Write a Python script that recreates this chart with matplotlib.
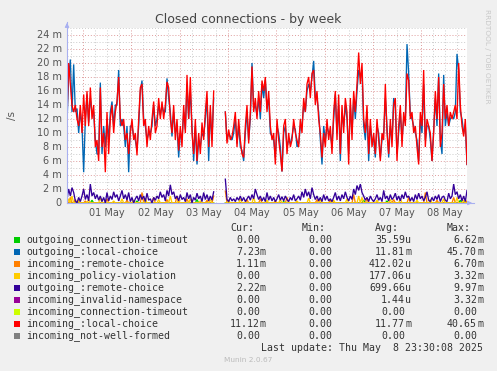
import numpy as np
import matplotlib
matplotlib.use("Agg")
import matplotlib.pyplot as plt

nan = float("nan")

# ---------------- data (values in milli-connections per second) ----------------
day_labels = ["01 May", "02 May", "03 May", "04 May", "05 May", "06 May", "07 May", "08 May"]
y_tick_labels = ["0", "2 m", "4 m", "6 m", "8 m", "10 m", "12 m", "14 m", "16 m", "18 m", "20 m", "22 m", "24 m"]

incoming_local = [
    12, 20, 17, 14, 13, 14, 12, 11, 14, 10,
    15.5, 11, 16, 11, 16.5, 12, 14, 8, 9, 6,
    16.5, 8, 10, 4.4, 13, 7, 12, 14, 10, 13,
    14.5, 18, 12, 11, 12, 9, 10, 7, 10, 12,
    9, 10, 6.8, 12, 16.5, 17, 11, 12, 8, 11,
    9, 12, 14.5, 10, 11, 15, 12, 14.5, 12, 14,
    17.3, 16.5, 12, 10, 14, 9, 12, 7.5, 11, 8,
    14, 10, 18.3, 12, 18, 10, 7, 12, 6, 10,
    7, 11.5, 9, 13, 16, 8, 14, 8, 16,
    nan, nan, nan, nan, nan, nan,
    13, 8.5, 10.5, 9, 9.5,
    11, 13, 8, 12, 9, 7, 6.5, 11, 14, 8.5,
    13, 19.5, 13, 15, 12, 16, 13, 17.5, 16, 18,
    13, 16, 11, 9, 10, 5.5, 12, 9, 7, 4.5,
    11, 12, 7, 10, 8, 9, 12, 10, 9, 8,
    12, 10, 15, 13, 17, 18, 15, 18.5, 19, 14,
    16, 12, 10, 6.5, 10, 8, 12, 9, 11, 7,
    13, 16, 9, 15.5, 7, 14, 10, 15, 13, 5.5,
    15, 9, 16, 13, 17, 21.5, 17, 20, 12, 10,
    14, 7, 12, 8, 10, 7, 12, 9, 6, 10,
    9, 17, 10, 7, 12, 8, 14, 15, 6, 11,
    14, 8, 13, 11, 18.5, 17.5, 12, 13, 10, 11,
    8, 5.5, 13, 11, 19, 8, 12, 11, 10, 6,
    10, 16, 12, 18, 8, 10, 17, 12, 14, 11,
    13, 12, 13, 14, 12, 20, 14, 11, 9.5, 12, 5.5,
]

outgoing_local = [
    11.5, 18, 20.5, 13, 19.8, 13, 13.5, 10, 13, 11,
    4.4, 12, 15.5, 11.5, 15, 13, 13, 9, 7, 7,
    17.2, 7, 11, 8, 12, 9, 13, 14.5, 11, 14,
    14, 19, 11, 12, 11, 8, 11, 4.4, 11, 11,
    9.5, 9, 7.5, 11, 16, 17.5, 12, 11, 9, 10,
    10, 11, 14, 11, 12, 14, 12.5, 14, 13, 13,
    17.8, 15, 13, 9.5, 13, 10, 11, 6.5, 10, 9,
    13, 10.5, 17, 12, 16, 11, 6, 11, 5.5, 9,
    8, 10, 9.5, 12, 15, 6, 13, 9, 15,
    nan, nan, nan, nan, nan, nan,
    13, 9, 10, 9.5, 9,
    10, 12, 8.5, 11, 8, 7.5, 6, 10, 13, 9,
    12, 20, 13.5, 14, 12.5, 15, 12, 17, 15, 17.5,
    13.5, 15, 10, 9.5, 9, 6.5, 11, 10, 8, 4.5,
    10, 11, 8, 9, 8.5, 9.5, 11, 10.5, 8, 8.5,
    11, 11, 14, 13, 16, 17, 16, 18, 20.3, 15,
    15, 13, 9, 5.5, 11, 9, 11, 10, 10, 8,
    12, 15.5, 10, 14, 6, 13, 11, 14, 12, 7,
    14, 10, 15, 12, 16, 19, 18, 19, 11, 9,
    13, 6, 11, 9, 9, 6.5, 11, 10, 6.5, 9,
    10, 15, 11, 6.5, 11, 9, 15, 13.5, 7, 10,
    13, 9, 12, 12, 22.7, 18.5, 12.5, 12, 11, 10,
    9, 6, 12, 10, 17, 9, 11, 11, 9, 6,
    10.5, 15, 11, 18.5, 9, 7, 18.3, 11, 13, 11,
    12, 12.5, 12, 13, 21.3, 19, 13, 12, 10, 11, 5.5,
]

outgoing_remote = [
    0.5, 2.0, 1.0, 2.2, 1.5, 0.3, 0, 0.8, 0.2, 1.0,
    2.0, 0.5, 1.2, 0.3, 2.7, 1.0, 1.5, 0.6, 1.2, 0.4,
    1.0, 0.2, 0.8, 0, 1.5, 0.3, 1.0, 0.5, 1.6, 0.8,
    1.2, 0.3, 1.0, 1.8, 0.6, 1.2, 0.4, 1.5, 0.2, 0.8,
    0, 0.6, 1.0, 0.3, 1.2, 0.5, 1.0, 0.2, 1.4, 0.4,
    0.6, 0, 0.8, 0.4, 1.0, 0.6, 1.6, 0.8, 1.2, 0.3,
    1.8, 1.0, 2.6, 1.2, 1.6, 0.6, 1.0, 0.3, 1.2, 0.5,
    0.8, 0.2, 1.5, 0.6, 1.2, 0, 0.8, 0.4, 1.4, 0.6,
    1.0, 0.2, 1.5, 0.5, 1.2, 0.3, 1.0, 0.4, 1.6,
    nan, nan, nan, nan, nan, nan,
    3.4, 0.5, 0.2, 0.8, 0.3,
    0.6, 0.2, 0.8, 0.4, 1.0, 0.3, 0.8, 0.2, 0.6, 1.0,
    0.4, 1.2, 0.6, 2.0, 1.2, 0.5, 1.0, 0.3, 0.8, 0.2,
    1.5, 0.4, 1.0, 0.3, 0.8, 0.2, 0.6, 1.2, 0.4, 0.9,
    0.3, 1.0, 0.5, 0.2, 0.8, 0.4, 1.2, 0.3, 0.6, 1.0,
    0.4, 1.6, 0.8, 2.0, 1.0, 1.6, 0.6, 2.2, 1.2, 0.5,
    1.0, 0.3, 0.8, 0.2, 1.2, 0.4, 1.0, 0.3, 0.6, 0.2,
    0.8, 1.5, 0.4, 1.0, 0.3, 1.2, 0.6, 1.6, 0.8, 0.3,
    1.0, 0.5, 2.0, 1.2, 2.5, 1.8, 2.7, 1.5, 1.0, 0.4,
    0.8, 0.2, 1.0, 0.5, 0.2, 0.6, 1.2, 0.4, 0.8, 0.2,
    1.8, 0.6, 1.0, 0.3, 1.2, 0.5, 0.8, 1.4, 0.4, 1.0,
    0.3, 1.2, 0.6, 1.6, 0.8, 1.0, 0.3, 0.8, 0.2, 1.2,
    0.5, 1.4, 0.6, 1.0, 0.3, 0.8, 1.6, 0.4, 0.2, 0.8,
    0.3, 1.0, 0.5, 1.2, 0.2, 0.8, 1.0, 0.4, 0.2, 1.4,
    0.6, 1.0, 2.7, 1.2, 1.6, 0.6, 1.2, 0.3, 1.0, 0.2, 1.8,
]

incoming_remote = [
    0, 0, 0.8, 0, 0, 0.5, 0, 0, 0, 0,
    0, 0.3, 0, 0, 0, 0, 0, 0, 0, 0,
    0, 0, 0, 0, 0.6, 0, 0, 0, 0, 0,
    0, 0, 0, 0, 0, 0, 0.4, 0, 0, 0,
    0, 0, 0, 0, 0, 1.5, 0, 0, 0, 0,
    0, 0, 0.8, 0, 0, 0, 0, 0, 0, 0,
    0.5, 0, 0, 0, 0, 0, 1.0, 0, 0, 0,
    0, 0, 0.6, 0, 0, 0, 0, 0, 0, 0,
    0, 0, 0, 0, 0.4, 0, 0, 0, 1.0,
    nan, nan, nan, nan, nan, nan,
    1.7, 0, 0, 0, 0,
    0, 0, 0, 0, 0, 0, 0, 0, 0.5, 0,
    0, 0, 0, 0, 0, 0, 0.6, 0, 0, 0,
    0, 0, 0, 0, 0, 0.3, 0, 0, 0, 0,
    0, 0, 0.8, 0, 0, 0, 0, 0, 0, 0,
    0, 0, 0, 0, 0, 0, 0, 0, 0, 0,
    0.5, 0, 0, 0, 0, 0, 0, 0, 0.4, 0,
    0, 0, 0, 0, 0, 0, 0, 0, 0, 0,
    0, 0, 1.2, 0, 0, 0, 0, 0, 0, 0,
    0.6, 0, 0, 0, 0, 0, 0, 0, 0, 0,
    0, 0, 0, 0, 0, 0, 0.5, 0, 0, 0,
    0, 0, 0, 0, 0, 0.8, 0, 0, 0, 0,
    0, 0, 0, 0, 0, 1.5, 0, 0, 0, 0,
    0, 0, 0.4, 0, 0, 0, 0, 0, 0, 0,
    0, 0, 0.8, 0, 0, 0, 0, 0, 0, 0, 0.3,
]

incoming_policy = [
    0, 0.6, 0, 1.0, 0, 0, 0, 0.4, 0, 0,
    0, 0, 0, 0.5, 0, 0, 0, 0, 0, 0,
    0.8, 0, 0, 0, 0, 0, 0, 0, 0.3, 0,
    0, 0, 0, 0.6, 0, 0, 0, 0, 0, 0,
    0.4, 0, 0, 0, 0, 0, 0, 0.7, 0, 0,
    0, 0, 0, 0, 0, 0.5, 0, 0, 0, 0,
    0, 0, 1.0, 0, 0, 0, 0, 0.4, 0, 0,
    0, 0, 0, 0, 0.6, 0, 0, 0, 0, 0,
    0.3, 0, 0, 0, 0, 0, 0.5, 0, 0,
    nan, nan, nan, nan, nan, nan,
    0, 0, 0.4, 0, 0,
    0, 0, 0, 0, 0.6, 0, 0, 0, 0, 0,
    0, 0, 0.8, 0, 0, 0, 0, 0, 0, 0,
    0.4, 0, 0, 0, 0, 0, 0, 0, 0.5, 0,
    0, 0, 0, 0, 0, 0, 0, 0, 0.3, 0,
    0, 0, 0, 0, 0, 0.7, 0, 0, 0, 0,
    0, 0, 0.5, 0, 0, 0, 0, 0, 0, 0,
    0.4, 0, 0, 0, 0, 0, 0, 0, 0.6, 0,
    0, 0, 0, 0, 0, 1.0, 0, 0.8, 0, 0,
    0, 0, 0, 0, 0, 0, 0.4, 0, 0, 0,
    0, 0, 0, 0, 0.5, 0, 0, 0, 0, 0,
    0.6, 0, 0, 0, 0, 0, 0, 0, 0, 0,
    0.4, 0, 0, 0, 0, 0, 0, 0, 0.5, 0,
    0, 0, 0, 0, 0, 0, 0.6, 0, 0, 0,
    0, 0, 0, 0, 0.8, 0, 0, 0, 0.4, 0, 0,
]

outgoing_timeout = [
    0, 0, 0, 0, 0, 0, 0, 0, 0, 0,
    0, 0, 0, 0, 0, 0.4, 0, 0, 0, 0,
    0, 0, 0, 0, 0, 0, 0, 0, 0, 0,
    0, 0, 0, 0, 0, 0, 0, 0, 0, 0,
    0, 0, 0.3, 0, 0, 0, 0, 0, 0, 0,
    0, 0, 0, 0, 0, 0, 0, 0, 0, 0,
    0, 0, 0, 0, 0, 0, 0, 0, 0, 0,
    0, 0, 0, 0, 0, 0, 0, 0, 0.5, 0,
    0, 0, 0, 0, 0, 0, 0, 0, 0,
    nan, nan, nan, nan, nan, nan,
    0, 0, 0, 0, 0,
    0, 0, 0, 0, 0, 0, 0, 0, 0, 0,
    0, 0, 0, 0, 0, 0, 0, 0, 0, 0,
    0, 0, 0, 0, 0, 0, 0, 0, 0, 0,
    0.2, 0, 0, 0, 0, 0, 0, 0, 0, 0,
    0, 0, 0, 0, 0, 0, 0, 0, 0, 0,
    0, 0, 0, 0, 0, 0, 0, 0, 0, 0,
    0, 0, 0, 0, 0, 0, 0, 0, 0, 0,
    0, 0, 0, 0, 0, 0, 0, 0, 0.4, 0,
    0, 0, 0, 0, 0, 0, 0, 0, 0, 0,
    0, 0, 0.3, 0, 0, 0, 0, 0, 0, 0,
    0, 0, 0, 0, 0, 0, 0, 0, 0, 0,
    0, 0, 0, 0, 0, 0, 0, 0, 0, 0,
    0, 0, 0, 0, 0, 0, 0, 0, 0, 0,
    0, 0, 0, 0, 0, 0, 0.4, 0, 0, 0, 0,
]

legend_names = [
    "outgoing_connection-timeout", "outgoing_:local-choice", "incoming_:remote-choice",
    "incoming_policy-violation", "outgoing_:remote-choice", "incoming_invalid-namespace",
    "incoming_connection-timeout", "incoming_:local-choice", "incoming_not-well-formed",
]
legend_colors = ["#00CC00", "#0066B3", "#FF8000", "#FFCC00", "#330099",
                 "#990099", "#CCFF00", "#FF0000", "#808080"]
cur_vals = [("0.00", " "), ("7.23", "m"), ("1.11", "m"), ("0.00", " "), ("2.22", "m"),
            ("0.00", " "), ("0.00", " "), ("11.12", "m"), ("0.00", " ")]
min_vals = [("0.00", " ")] * 9
avg_vals = [("35.59", "u"), ("11.81", "m"), ("412.02", "u"), ("177.06", "u"), ("699.66", "u"),
            ("1.44", "u"), ("0.00", " "), ("11.77", "m"), ("0.00", " ")]
max_vals = [("6.62", "m"), ("45.70", "m"), ("6.70", "m"), ("3.32", "m"), ("9.97", "m"),
            ("3.32", "m"), ("0.00", " "), ("40.65", "m"), ("0.00", " ")]

# ---------------- figure ----------------
W, H = 497, 371
fig = plt.figure(figsize=(W / 100, H / 100), dpi=100, facecolor="#F0F0F0")

def px(x, y):
    return x / W, 1 - y / H

X0, X1, YB, YT = 67, 467, 203, 28
ax = fig.add_axes([X0 / W, (H - YB) / H, (X1 - X0) / W, (YB - YT) / H])
ax.set_facecolor("white")
xmin, xmax = -1 / 3, -1 / 3 + 400 / 48.29
ax.set_xlim(xmin, xmax)
ax.set_ylim(0, 25)
for s in ax.spines.values():
    s.set_visible(False)
ax.set_xticks([])
ax.set_yticks([])

# grid
dot = (0, (1, 2))
major_col, minor_col = "#DE9C9C", "#CCCCCC"
for v in np.arange(0, 26, 1):
    col = major_col if v % 2 == 0 else minor_col
    ax.axhline(v, color=col, lw=0.7, ls=dot, zorder=0)
for v in np.arange(-0.25, 8.0, 0.25):
    major = abs(v - round(v)) < 1e-6
    ax.axvline(v, color=major_col if major else minor_col, lw=0.7, ls=dot, zorder=0)

xs = np.linspace(xmin, xmax, len(incoming_local))
series = [
    (outgoing_timeout, "#00CC00"),
    (outgoing_local, "#0066B3"),
    (incoming_remote, "#FF8000"),
    (incoming_policy, "#FFCC00"),
    (outgoing_remote, "#330099"),
    (incoming_local, "#FF0000"),
]
for vals, col in series:
    ax.plot(xs, vals, color=col, lw=0.95, zorder=3, solid_joinstyle="miter")

# axis arrows
axis_col = "#A8B0F0"
fig.add_artist(plt.Line2D([X0 / W, 474 / W], [1 - YB / H, 1 - YB / H], color=axis_col, lw=0.8))
fig.add_artist(plt.Line2D([X0 / W, X0 / W], [1 - YB / H, 1 - 22 / H], color=axis_col, lw=0.8))
ax.annotate("", xy=px(475, YB), xytext=px(466, YB), xycoords="figure fraction",
            arrowprops=dict(arrowstyle="-|>", color=axis_col, lw=0.8, mutation_scale=6))
ax.annotate("", xy=px(X0, 20), xytext=px(X0, 29), xycoords="figure fraction",
            arrowprops=dict(arrowstyle="-|>", color=axis_col, lw=0.8, mutation_scale=6))

# tick labels
tc = "#555555"
for i, lab in enumerate(y_tick_labels):
    yv = i * 2
    ypx = YB - yv * 7
    fig.text(*px(62, ypx), lab, ha="right", va="center", fontsize=7, color=tc)
for i, lab in enumerate(day_labels):
    xpx = X0 + (i + 0.5 - xmin) * 48.29
    fig.text(*px(xpx, 213), lab, ha="center", va="center", fontsize=7, color=tc)

fig.text(*px(248.5, 19), "Closed connections - by week", ha="center", va="center",
         fontsize=9, color="#444444")
fig.text(*px(12, 115), "/s", ha="center", va="center", rotation=90, fontsize=7.5, color=tc)
fig.text(*px(487, 56), "RRDTOOL / TOBI OETIKER", ha="center", va="center", rotation=270,
         fontsize=5.3, color="#C8C8C8")

# legend
mono = "DejaVu Sans Mono"
fs = 7.1
lc = "#333333"
edges = [266, 338, 411, 483]
heads = ["Cur:", "Min:", "Avg:", "Max:"]
for e, h in zip(edges, heads):
    fig.text(*px(e - 12, 228), h, ha="right", va="center", fontsize=fs, family=mono, color=lc)
cols = [cur_vals, min_vals, avg_vals, max_vals]
for r, name in enumerate(legend_names):
    y = 239.7 + 12 * r
    fig.patches.append(plt.Rectangle(px(14, y + 3), 6 / W, 6 / H, transform=fig.transFigure,
                                     facecolor=legend_colors[r], edgecolor="none"))
    fig.text(*px(26, y), name, ha="left", va="center", fontsize=fs, family=mono, color=lc)
    for e, c in zip(edges, cols):
        num, suf = c[r]
        fig.text(*px(e - 6, y), num, ha="right", va="center", fontsize=fs, family=mono, color=lc)
        if suf.strip():
            fig.text(*px(e - 6, y), suf, ha="left", va="center", fontsize=fs, family=mono, color=lc)
fig.text(*px(483, 347.7), "Last update: Thu May  8 23:30:08 2025", ha="right", va="center",
         fontsize=fs, family=mono, color=lc)
fig.text(*px(248, 360), "Munin 2.0.67", ha="center", va="center", fontsize=5.3, color="#BBBBBB")

fig.savefig("out.png", dpi=100, facecolor=fig.get_facecolor())
